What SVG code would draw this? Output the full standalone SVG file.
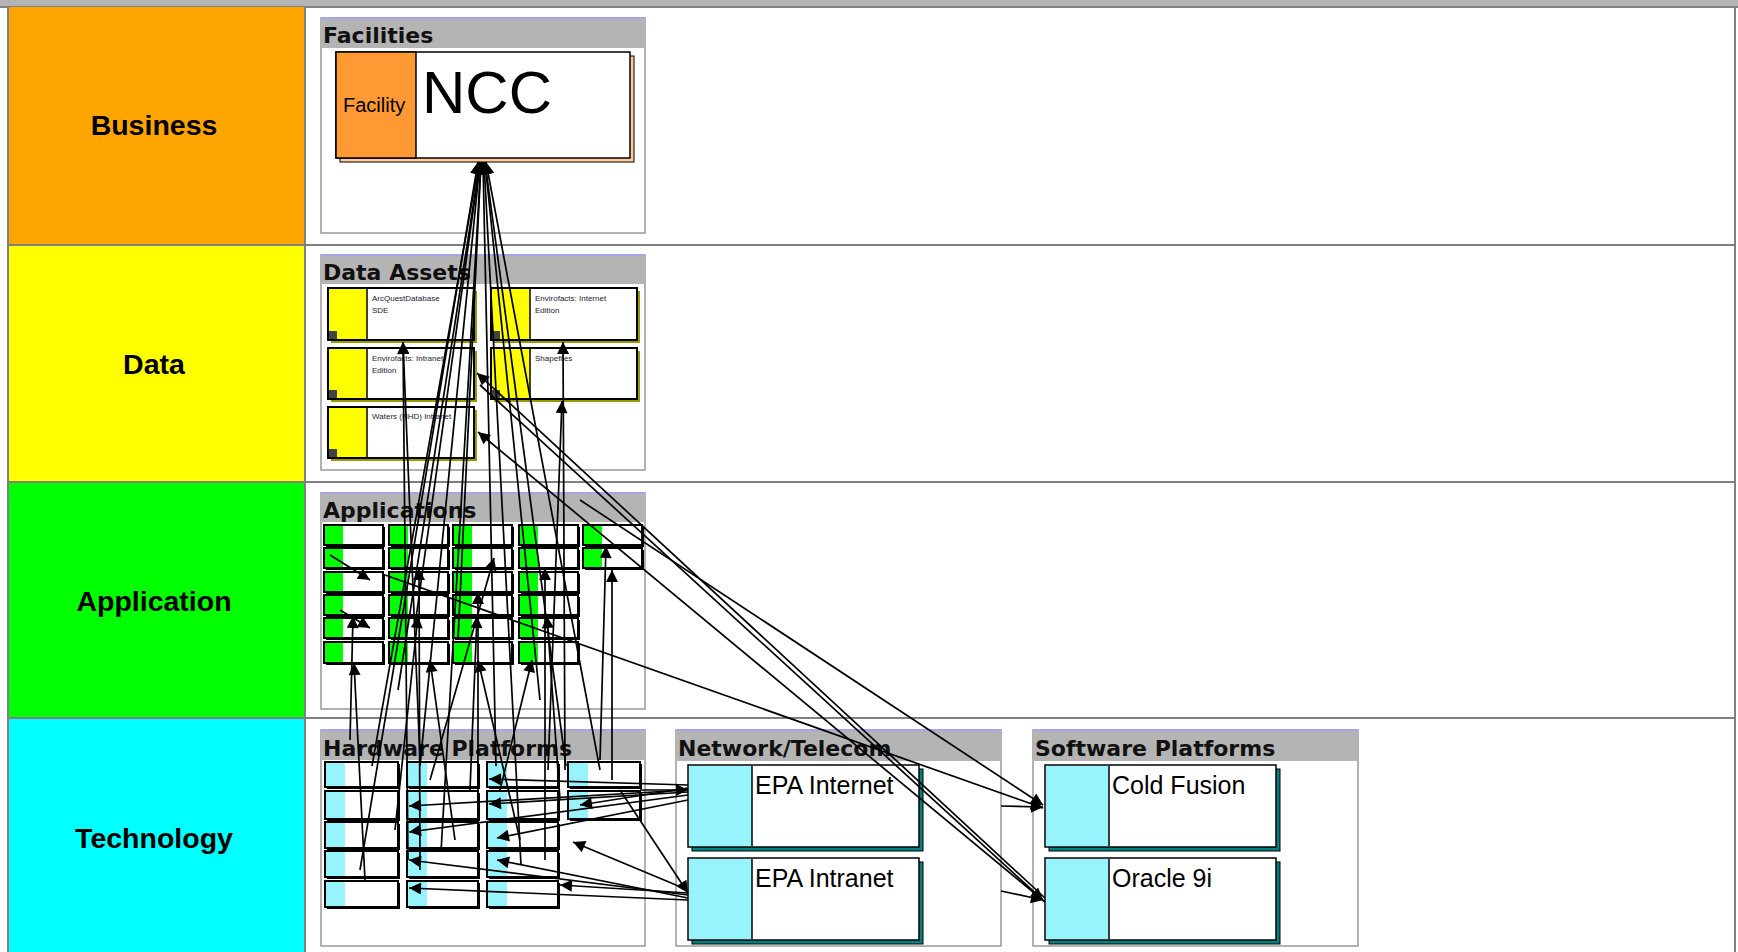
<svg xmlns="http://www.w3.org/2000/svg" width="1738" height="952" viewBox="0 0 1738 952">
<style>
.lane{stroke:#808080;stroke-width:2}
.lanelbl{font-family:"Liberation Sans",Arial,sans-serif;font-weight:bold;font-size:28.5px;fill:#000;text-anchor:middle}
.cont{fill:#fff;stroke:#999;stroke-width:1.5}
.chead{fill:#b4b4b4;stroke:none}
.cheadtop{stroke:#a0a0ff;stroke-width:1.5}
.ctitle{font-family:"DejaVu Sans",Verdana,sans-serif;font-weight:bold;font-size:22px;fill:#111}
.nbox{fill:#fff;stroke:#000;stroke-width:1.5}
.dbox{fill:#fff;stroke:#000;stroke-width:2}
.dtext{font-family:"Liberation Sans",Arial,sans-serif;font-size:8px;fill:#223}
.big{font-family:"Liberation Sans",Arial,sans-serif;fill:#000}
.abox{fill:#fff;stroke:#000;stroke-width:2}
.ash{fill:#000}
.cy{fill:#97f4fd}
.gr{fill:#00ff00}
.ye{fill:#ffff00}
.conn line{stroke:#000;stroke-width:1.7;marker-end:url(#ah)}
</style>
<defs>
<marker id="ah" viewBox="0 0 10 10" refX="10" refY="5" markerWidth="17" markerHeight="12" markerUnits="userSpaceOnUse" orient="auto"><path d="M0,0 L10,5 L0,10 z" fill="#000"/></marker>
</defs>
<rect x="0" y="0" width="1738" height="952" fill="#fff"/>
<rect x="0" y="0" width="1738" height="7" fill="#b4b4b4"/>
<line x1="0" y1="7" x2="1738" y2="7" stroke="#808080" stroke-width="2"/>
<g id="lanes">
<rect x="8" y="7" width="297" height="238" fill="#ffa500"/>
<rect x="8" y="245" width="297" height="237" fill="#ffff00"/>
<rect x="8" y="482" width="297" height="236" fill="#00ff00"/>
<rect x="8" y="718" width="297" height="240" fill="#00ffff"/>
<line class="lane" x1="8" y1="7" x2="8" y2="952"/>
<line class="lane" x1="305" y1="7" x2="305" y2="952"/>
<line class="lane" x1="1735" y1="7" x2="1735" y2="952"/>
<line class="lane" x1="8" y1="245" x2="1735" y2="245"/>
<line class="lane" x1="8" y1="482" x2="1735" y2="482"/>
<line class="lane" x1="8" y1="718" x2="1735" y2="718"/>
<text class="lanelbl" x="154" y="135">Business</text>
<text class="lanelbl" x="154" y="374">Data</text>
<text class="lanelbl" x="154" y="611">Application</text>
<text class="lanelbl" x="154" y="848">Technology</text>
</g>
<g id="facilities">
<rect class="cont" x="321" y="18" width="324" height="215"/>
<rect class="chead" x="321" y="18" width="324" height="30"/>
<line class="cheadtop" x1="321" y1="18" x2="645" y2="18"/>
<text class="ctitle" x="323" y="43">Facilities</text>
</g>
<g id="ncc">
<rect x="340" y="56" width="294" height="106" fill="#ffcc99" stroke="#000" stroke-width="1"/>
<rect class="nbox" x="336" y="52" width="294" height="106"/>
<rect x="336" y="52" width="80" height="106" fill="#ff9933" stroke="#000" stroke-width="1.5"/>
<text class="big" x="343" y="112" font-size="20">Facility</text>
<text class="big" x="422" y="113" font-size="60">NCC</text>
</g>
<g id="data-assets">
<rect class="cont" x="321" y="255" width="324" height="215"/>
<rect class="chead" x="321" y="255" width="324" height="29"/>
<line class="cheadtop" x1="321" y1="255" x2="645" y2="255"/>
<text class="ctitle" x="323" y="280">Data Assets</text>
</g>
<g id="d1"><rect x="331" y="291" width="146" height="52" fill="#999900"/><rect class="dbox" x="328" y="288" width="146" height="52"/><rect class="ye" x="329" y="289" width="38" height="50"/><line x1="367" y1="289" x2="367" y2="339" stroke="#000" stroke-width="1.5"/><rect x="329" y="331" width="8" height="8" fill="#444"/><text class="dtext" x="372" y="301">ArcQuestDatabase</text><text class="dtext" x="372" y="313">SDE</text></g>
<g id="d2"><rect x="494" y="291" width="146" height="52" fill="#999900"/><rect class="dbox" x="491" y="288" width="146" height="52"/><rect class="ye" x="492" y="289" width="38" height="50"/><line x1="530" y1="289" x2="530" y2="339" stroke="#000" stroke-width="1.5"/><rect x="492" y="331" width="8" height="8" fill="#444"/><text class="dtext" x="535" y="301">Envirofacts: Internet</text><text class="dtext" x="535" y="313">Edition</text></g>
<g id="d3"><rect x="331" y="351" width="146" height="51" fill="#999900"/><rect class="dbox" x="328" y="348" width="146" height="51"/><rect class="ye" x="329" y="349" width="38" height="49"/><line x1="367" y1="349" x2="367" y2="398" stroke="#000" stroke-width="1.5"/><rect x="329" y="390" width="8" height="8" fill="#444"/><text class="dtext" x="372" y="361">Envirofacts: Intranet</text><text class="dtext" x="372" y="373">Edition</text></g>
<g id="d4"><rect x="494" y="351" width="146" height="51" fill="#999900"/><rect class="dbox" x="491" y="348" width="146" height="51"/><rect class="ye" x="492" y="349" width="38" height="49"/><line x1="530" y1="349" x2="530" y2="398" stroke="#000" stroke-width="1.5"/><rect x="492" y="390" width="8" height="8" fill="#444"/><text class="dtext" x="535" y="361">Shapefiles</text></g>
<g id="d5"><rect x="331" y="410" width="146" height="51" fill="#999900"/><rect class="dbox" x="328" y="407" width="146" height="51"/><rect class="ye" x="329" y="408" width="38" height="49"/><line x1="367" y1="408" x2="367" y2="457" stroke="#000" stroke-width="1.5"/><rect x="329" y="449" width="8" height="8" fill="#444"/><text class="dtext" x="372" y="419">Waters (NHD) Intranet</text></g>
<g id="applications">
<rect class="cont" x="321" y="493" width="324" height="216"/>
<rect class="chead" x="321" y="493" width="324" height="29"/>
<line class="cheadtop" x1="321" y1="493" x2="645" y2="493"/>
<text class="ctitle" x="323" y="518">Applications</text>
</g>
<g id="app-nodes">
<g id="a11"><rect class="ash" x="326" y="527" width="59" height="20"/><rect class="abox" x="324" y="525" width="59" height="20"/><rect class="gr" x="325" y="526" width="18" height="18"/></g>
<g id="a12"><rect class="ash" x="326" y="550" width="59" height="20"/><rect class="abox" x="324" y="548" width="59" height="20"/><rect class="gr" x="325" y="549" width="18" height="18"/></g>
<g id="a13"><rect class="ash" x="326" y="574" width="59" height="20"/><rect class="abox" x="324" y="572" width="59" height="20"/><rect class="gr" x="325" y="573" width="18" height="18"/></g>
<g id="a14"><rect class="ash" x="326" y="597" width="59" height="20"/><rect class="abox" x="324" y="595" width="59" height="20"/><rect class="gr" x="325" y="596" width="18" height="18"/></g>
<g id="a15"><rect class="ash" x="326" y="620" width="59" height="20"/><rect class="abox" x="324" y="618" width="59" height="20"/><rect class="gr" x="325" y="619" width="18" height="18"/></g>
<g id="a16"><rect class="ash" x="326" y="644" width="59" height="21"/><rect class="abox" x="324" y="642" width="59" height="21"/><rect class="gr" x="325" y="643" width="18" height="19"/></g>
<g id="a21"><rect class="ash" x="391" y="527" width="59" height="20"/><rect class="abox" x="389" y="525" width="59" height="20"/><rect class="gr" x="390" y="526" width="18" height="18"/></g>
<g id="a22"><rect class="ash" x="391" y="550" width="59" height="20"/><rect class="abox" x="389" y="548" width="59" height="20"/><rect class="gr" x="390" y="549" width="18" height="18"/></g>
<g id="a23"><rect class="ash" x="391" y="574" width="59" height="20"/><rect class="abox" x="389" y="572" width="59" height="20"/><rect class="gr" x="390" y="573" width="18" height="18"/></g>
<g id="a24"><rect class="ash" x="391" y="597" width="59" height="20"/><rect class="abox" x="389" y="595" width="59" height="20"/><rect class="gr" x="390" y="596" width="18" height="18"/></g>
<g id="a25"><rect class="ash" x="391" y="620" width="59" height="20"/><rect class="abox" x="389" y="618" width="59" height="20"/><rect class="gr" x="390" y="619" width="18" height="18"/></g>
<g id="a26"><rect class="ash" x="391" y="644" width="59" height="21"/><rect class="abox" x="389" y="642" width="59" height="21"/><rect class="gr" x="390" y="643" width="18" height="19"/></g>
<g id="a31"><rect class="ash" x="455" y="527" width="59" height="20"/><rect class="abox" x="453" y="525" width="59" height="20"/><rect class="gr" x="454" y="526" width="18" height="18"/></g>
<g id="a32"><rect class="ash" x="455" y="550" width="59" height="20"/><rect class="abox" x="453" y="548" width="59" height="20"/><rect class="gr" x="454" y="549" width="18" height="18"/></g>
<g id="a33"><rect class="ash" x="455" y="574" width="59" height="20"/><rect class="abox" x="453" y="572" width="59" height="20"/><rect class="gr" x="454" y="573" width="18" height="18"/></g>
<g id="a34"><rect class="ash" x="455" y="597" width="59" height="20"/><rect class="abox" x="453" y="595" width="59" height="20"/><rect class="gr" x="454" y="596" width="18" height="18"/></g>
<g id="a35"><rect class="ash" x="455" y="620" width="59" height="20"/><rect class="abox" x="453" y="618" width="59" height="20"/><rect class="gr" x="454" y="619" width="18" height="18"/></g>
<g id="a36"><rect class="ash" x="455" y="644" width="59" height="21"/><rect class="abox" x="453" y="642" width="59" height="21"/><rect class="gr" x="454" y="643" width="18" height="19"/></g>
<g id="a41"><rect class="ash" x="521" y="527" width="59" height="20"/><rect class="abox" x="519" y="525" width="59" height="20"/><rect class="gr" x="520" y="526" width="18" height="18"/></g>
<g id="a42"><rect class="ash" x="521" y="550" width="59" height="20"/><rect class="abox" x="519" y="548" width="59" height="20"/><rect class="gr" x="520" y="549" width="18" height="18"/></g>
<g id="a43"><rect class="ash" x="521" y="574" width="59" height="20"/><rect class="abox" x="519" y="572" width="59" height="20"/><rect class="gr" x="520" y="573" width="18" height="18"/></g>
<g id="a44"><rect class="ash" x="521" y="597" width="59" height="20"/><rect class="abox" x="519" y="595" width="59" height="20"/><rect class="gr" x="520" y="596" width="18" height="18"/></g>
<g id="a45"><rect class="ash" x="521" y="620" width="59" height="20"/><rect class="abox" x="519" y="618" width="59" height="20"/><rect class="gr" x="520" y="619" width="18" height="18"/></g>
<g id="a46"><rect class="ash" x="521" y="644" width="59" height="21"/><rect class="abox" x="519" y="642" width="59" height="21"/><rect class="gr" x="520" y="643" width="18" height="19"/></g>
<g id="a51"><rect class="ash" x="585" y="527" width="59" height="20"/><rect class="abox" x="583" y="525" width="59" height="20"/><rect class="gr" x="584" y="526" width="18" height="18"/></g>
<g id="a52"><rect class="ash" x="585" y="550" width="59" height="20"/><rect class="abox" x="583" y="548" width="59" height="20"/><rect class="gr" x="584" y="549" width="18" height="18"/></g>
</g>
<g id="hardware-platforms">
<rect class="cont" x="321" y="730" width="324" height="216"/>
<rect class="chead" x="321" y="730" width="324" height="30"/>
<line class="cheadtop" x1="321" y1="730" x2="645" y2="730"/>
<text class="ctitle" x="323" y="756">Hardware Platforms</text>
</g>
<g id="hw-nodes">
<g id="h11"><rect class="ash" x="327" y="764" width="73" height="25"/><rect class="abox" x="325" y="762" width="73" height="25"/><rect class="cy" x="326" y="763" width="19" height="23"/></g>
<g id="h12"><rect class="ash" x="327" y="793" width="73" height="28"/><rect class="abox" x="325" y="791" width="73" height="28"/><rect class="cy" x="326" y="792" width="19" height="26"/></g>
<g id="h13"><rect class="ash" x="327" y="824" width="73" height="26"/><rect class="abox" x="325" y="822" width="73" height="26"/><rect class="cy" x="326" y="823" width="19" height="24"/></g>
<g id="h14"><rect class="ash" x="327" y="853" width="73" height="26"/><rect class="abox" x="325" y="851" width="73" height="26"/><rect class="cy" x="326" y="852" width="19" height="24"/></g>
<g id="h15"><rect class="ash" x="327" y="883" width="73" height="26"/><rect class="abox" x="325" y="881" width="73" height="26"/><rect class="cy" x="326" y="882" width="19" height="24"/></g>
<g id="h21"><rect class="ash" x="409" y="764" width="71" height="25"/><rect class="abox" x="407" y="762" width="71" height="25"/><rect class="cy" x="408" y="763" width="19" height="23"/></g>
<g id="h22"><rect class="ash" x="409" y="793" width="71" height="28"/><rect class="abox" x="407" y="791" width="71" height="28"/><rect class="cy" x="408" y="792" width="19" height="26"/></g>
<g id="h23"><rect class="ash" x="409" y="824" width="71" height="26"/><rect class="abox" x="407" y="822" width="71" height="26"/><rect class="cy" x="408" y="823" width="19" height="24"/></g>
<g id="h24"><rect class="ash" x="409" y="853" width="71" height="26"/><rect class="abox" x="407" y="851" width="71" height="26"/><rect class="cy" x="408" y="852" width="19" height="24"/></g>
<g id="h25"><rect class="ash" x="409" y="883" width="71" height="26"/><rect class="abox" x="407" y="881" width="71" height="26"/><rect class="cy" x="408" y="882" width="19" height="24"/></g>
<g id="h31"><rect class="ash" x="489" y="764" width="71" height="25"/><rect class="abox" x="487" y="762" width="71" height="25"/><rect class="cy" x="488" y="763" width="19" height="23"/></g>
<g id="h32"><rect class="ash" x="489" y="793" width="71" height="28"/><rect class="abox" x="487" y="791" width="71" height="28"/><rect class="cy" x="488" y="792" width="19" height="26"/></g>
<g id="h33"><rect class="ash" x="489" y="824" width="71" height="26"/><rect class="abox" x="487" y="822" width="71" height="26"/><rect class="cy" x="488" y="823" width="19" height="24"/></g>
<g id="h34"><rect class="ash" x="489" y="853" width="71" height="26"/><rect class="abox" x="487" y="851" width="71" height="26"/><rect class="cy" x="488" y="852" width="19" height="24"/></g>
<g id="h35"><rect class="ash" x="489" y="883" width="71" height="26"/><rect class="abox" x="487" y="881" width="71" height="26"/><rect class="cy" x="488" y="882" width="19" height="24"/></g>
<g id="h41"><rect class="ash" x="570" y="764" width="72" height="25"/><rect class="abox" x="568" y="762" width="72" height="25"/><rect class="cy" x="569" y="763" width="19" height="23"/></g>
<g id="h42"><rect class="ash" x="570" y="793" width="72" height="28"/><rect class="abox" x="568" y="791" width="72" height="28"/><rect class="cy" x="569" y="792" width="19" height="26"/></g>
</g>
<g id="network-telecom">
<rect class="cont" x="676" y="730" width="325" height="216"/>
<rect class="chead" x="676" y="730" width="325" height="31"/>
<line class="cheadtop" x1="676" y1="730" x2="1001" y2="730"/>
<text class="ctitle" x="678" y="756">Network/Telecom</text>
</g>
<g id="epa-internet"><rect x="692" y="769" width="231" height="82" fill="#008080" stroke="#000" stroke-width="1"/><rect class="nbox" x="688" y="765" width="231" height="82"/><rect class="cy" x="689" y="766" width="63" height="80"/><line x1="752" y1="766" x2="752" y2="846" stroke="#000" stroke-width="1.5"/><text class="big" x="755" y="794" font-size="25">EPA Internet</text></g>
<g id="epa-intranet"><rect x="692" y="862" width="231" height="82" fill="#008080" stroke="#000" stroke-width="1"/><rect class="nbox" x="688" y="858" width="231" height="82"/><rect class="cy" x="689" y="859" width="63" height="80"/><line x1="752" y1="859" x2="752" y2="939" stroke="#000" stroke-width="1.5"/><text class="big" x="755" y="887" font-size="25">EPA Intranet</text></g>
<g id="software-platforms">
<rect class="cont" x="1033" y="730" width="325" height="216"/>
<rect class="chead" x="1033" y="730" width="325" height="31"/>
<line class="cheadtop" x1="1033" y1="730" x2="1358" y2="730"/>
<text class="ctitle" x="1035" y="756">Software Platforms</text>
</g>
<g id="cold-fusion"><rect x="1049" y="769" width="231" height="82" fill="#008080" stroke="#000" stroke-width="1"/><rect class="nbox" x="1045" y="765" width="231" height="82"/><rect class="cy" x="1046" y="766" width="63" height="80"/><line x1="1109" y1="766" x2="1109" y2="846" stroke="#000" stroke-width="1.5"/><text class="big" x="1112" y="794" font-size="25">Cold Fusion</text></g>
<g id="oracle-9i"><rect x="1049" y="862" width="231" height="82" fill="#008080" stroke="#000" stroke-width="1"/><rect class="nbox" x="1045" y="858" width="231" height="82"/><rect class="cy" x="1046" y="859" width="63" height="80"/><line x1="1109" y1="859" x2="1109" y2="939" stroke="#000" stroke-width="1.5"/><text class="big" x="1112" y="887" font-size="25">Oracle 9i</text></g>
<g id="connectors" class="conn">
<line x1="360" y1="870" x2="478" y2="162"/>
<line x1="372" y1="766" x2="479" y2="162"/>
<line x1="420" y1="766" x2="480" y2="162"/>
<line x1="441" y1="852" x2="481" y2="162"/>
<line x1="458" y1="640" x2="481" y2="162"/>
<line x1="496" y1="766" x2="483" y2="162"/>
<line x1="521" y1="865" x2="484" y2="162"/>
<line x1="540" y1="700" x2="485" y2="162"/>
<line x1="566" y1="766" x2="485" y2="162"/>
<line x1="600" y1="770" x2="486" y2="162"/>
<line x1="415" y1="625" x2="480" y2="162"/>
<line x1="398" y1="690" x2="480" y2="162"/>
<line x1="408" y1="860" x2="403" y2="342"/>
<line x1="420" y1="760" x2="403" y2="342"/>
<line x1="565" y1="770" x2="563" y2="342"/>
<line x1="548" y1="770" x2="562" y2="401"/>
<line x1="1045" y1="898" x2="477" y2="373"/>
<line x1="1045" y1="902" x2="478" y2="432"/>
<line x1="480" y1="385" x2="1043" y2="900"/>
<line x1="580" y1="500" x2="1043" y2="805"/>
<line x1="385" y1="575" x2="1043" y2="808"/>
<line x1="1001" y1="806" x2="1043" y2="807"/>
<line x1="1001" y1="891" x2="1043" y2="900"/>
<line x1="350" y1="740" x2="353" y2="616"/>
<line x1="365" y1="880" x2="354" y2="663"/>
<line x1="330" y1="555" x2="370" y2="580"/>
<line x1="340" y1="610" x2="370" y2="628"/>
<line x1="420" y1="870" x2="419" y2="568"/>
<line x1="395" y1="830" x2="418" y2="616"/>
<line x1="455" y1="840" x2="430" y2="660"/>
<line x1="430" y1="780" x2="494" y2="558"/>
<line x1="478" y1="840" x2="478" y2="592"/>
<line x1="470" y1="790" x2="477" y2="616"/>
<line x1="520" y1="840" x2="478" y2="660"/>
<line x1="545" y1="860" x2="545" y2="568"/>
<line x1="560" y1="800" x2="547" y2="616"/>
<line x1="500" y1="790" x2="532" y2="660"/>
<line x1="612" y1="780" x2="612" y2="570"/>
<line x1="600" y1="760" x2="606" y2="546"/>
<line x1="688" y1="785" x2="489" y2="779"/>
<line x1="688" y1="790" x2="409" y2="806"/>
<line x1="688" y1="792" x2="489" y2="804"/>
<line x1="688" y1="788" x2="580" y2="805"/>
<line x1="688" y1="795" x2="409" y2="832"/>
<line x1="688" y1="800" x2="497" y2="838"/>
<line x1="688" y1="895" x2="409" y2="860"/>
<line x1="688" y1="898" x2="497" y2="860"/>
<line x1="688" y1="900" x2="409" y2="888"/>
<line x1="688" y1="893" x2="560" y2="885"/>
<line x1="688" y1="890" x2="573" y2="842"/>
<line x1="640" y1="790" x2="688" y2="790"/>
<line x1="620" y1="790" x2="688" y2="893"/>
</g>
</svg>
